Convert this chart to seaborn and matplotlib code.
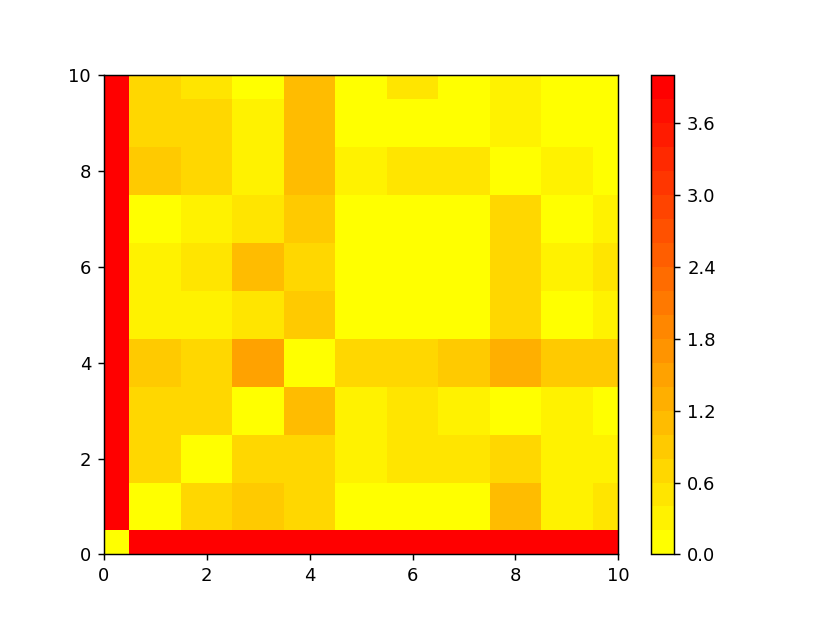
import numpy as np
import matplotlib
matplotlib.use("Agg")
import matplotlib.pyplot as plt
from matplotlib.colors import BoundaryNorm
from matplotlib.ticker import MaxNLocator
import seaborn as sns

# grid coordinates (cell centres)
x = np.arange(11)
y = np.arange(11)

# colour bands (band k -> value 0.2*k + 0.1), R = far point
R = 3.9
rows = [
    # x: 0    1    2    3    4    5    6    7    8    9    10
    [0.0,  R,   R,   R,   R,   R,   R,   R,   R,   R,   R],    # y=0
    [R,   0.0, 0.7, 0.9, 0.7, 0.1, 0.1, 0.1, 1.1, 0.3, 0.5],   # y=1
    [R,   0.7, 0.0, 0.7, 0.7, 0.3, 0.5, 0.5, 0.7, 0.3, 0.3],   # y=2
    [R,   0.7, 0.7, 0.0, 1.1, 0.3, 0.5, 0.3, 0.1, 0.3, 0.1],   # y=3
    [R,   0.9, 0.7, 1.5, 0.0, 0.7, 0.7, 0.8, 1.3, 0.8, 0.9],   # y=4
    [R,   0.3, 0.3, 0.5, 0.9, 0.0, 0.1, 0.1, 0.7, 0.1, 0.3],   # y=5
    [R,   0.3, 0.5, 1.1, 0.7, 0.1, 0.0, 0.1, 0.7, 0.3, 0.5],   # y=6
    [R,   0.1, 0.3, 0.5, 0.9, 0.1, 0.1, 0.0, 0.7, 0.1, 0.3],   # y=7
    [R,   0.9, 0.7, 0.3, 1.1, 0.3, 0.5, 0.5, 0.0, 0.3, 0.1],   # y=8
    [R,   0.7, 0.7, 0.3, 1.1, 0.1, 0.1, 0.1, 0.3, 0.0, 0.1],   # y=9
    [R,   0.7, 0.5, 0.1, 1.1, 0.1, 0.5, 0.1, 0.3, 0.1, 0.0],   # y=10
]
z = np.array(rows)

cmap = sns.color_palette("autumn_r", as_cmap=True)
levels = MaxNLocator(nbins=20).tick_values(z.min(), z.max())
norm = BoundaryNorm(levels, ncolors=cmap.N, clip=True)

fig, ax = plt.subplots(figsize=(830 / 130, 623 / 130), dpi=130)
im = ax.pcolormesh(x, y, z, cmap=cmap, norm=norm, shading="nearest")
cbar = fig.colorbar(im, ax=ax)
cbar.minorticks_off()
ax.set_xlim(0, 10)
ax.set_ylim(0, 10)
fig.savefig("out.png", dpi=130)
